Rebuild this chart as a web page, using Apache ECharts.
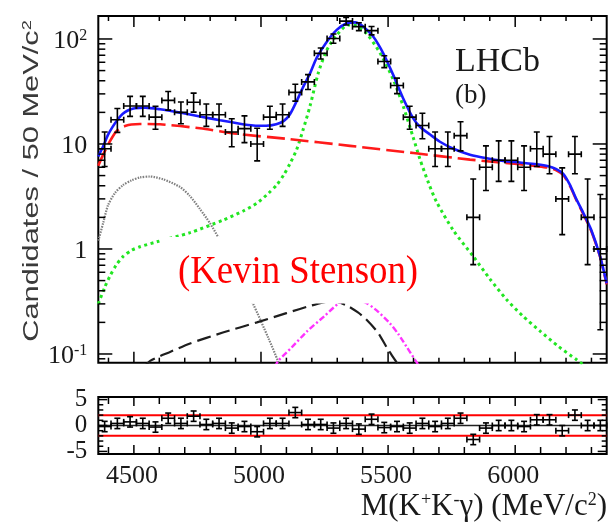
<!DOCTYPE html>
<html><head><meta charset="utf-8">
<script src="https://cdn.jsdelivr.net/npm/echarts@6/dist/echarts.min.js"></script>
<style>html,body{margin:0;padding:0;background:#fff}#c{width:610px;height:525px}</style>
</head><body><div id="c"></div>
<script>
// ---------------- data ----------------
const binCenters = [4385,4435,4485,4535,4585,4635,4685,4735,4785,4835,4885,4935,4985,5035,5085,5135,5185,5235,5285,5335,5385,5435,5485,5535,5585,5635,5685,5735,5785,5835,5885,5935,5985,6035,6085,6135,6185,6235,6285,6335];
const counts   = [9,17,23,23,18,26,20,25,19,19,13,14,10,18,19,31,39,73,101,148,131,120,61,36,18,15,9,9,12,2,6,7,7,6,9,8,3,8,2,1];
const countLo  = [6.1,12.9,18.3,18.3,13.8,21.0,15.6,20.1,14.7,14.7,9.4,10.3,6.9,13.8,14.7,25.6,33.0,64.5,91.0,136.0,120.0,109.5,53.3,30.2,13.8,11.2,6.1,6.1,8.6,0.71,3.6,4.4,4.4,3.6,6.1,5.2,1.37,5.2,0.71,0.17];
const countHi  = [13.0,21.8,28.4,28.4,22.9,31.6,25.1,30.5,24.0,24.0,17.4,18.5,14.1,22.9,24.0,37.1,45.8,82.0,111.6,160.7,142.9,131.5,69.3,42.4,22.9,19.6,13.0,13.0,16.3,4.64,9.6,10.7,10.7,9.6,13.0,11.8,5.92,11.8,4.64,3.3];
const residuals = [-0.2,0.4,0.7,0.4,-0.3,1.4,0.4,1.8,0.2,0.4,-0.5,-0.2,-1.2,0.4,0.4,2.5,0.2,0.2,-0.5,0.4,-0.7,1.2,-0.4,-0.2,-0.5,0.4,-0.2,0.4,1.4,-2.7,-0.5,0,0,-0.2,1.1,1.1,-1.0,2.0,0,0];
const residualErr = 1;

const totalFit = [[4360,7.6],[4380,9.6],[4398,12.2],[4415,14.4],[4430,16.3],[4448,18.5],[4465,20.1],[4485,21.3],[4504,21.9],[4544,22.2],[4603,21.4],[4681,19.9],[4760,18.3],[4839,16.8],[4917,15.6],[4970,15.0],[5020,14.9],[5060,15.4],[5090,16.6],[5114,19.2],[5140,25.5],[5166,35],[5193,47],[5219,66],[5259,94],[5298,122],[5337,141],[5370,144],[5403,131],[5442,105],[5481,73],[5521,45],[5560,27],[5599,17.5],[5625,14.6],[5665,12.3],[5704,10.5],[5757,9.0],[5822,7.9],[5888,7.3],[5953,6.9],[6019,6.65],[6085,6.4],[6130,6.15],[6160,5.8],[6189,5.2],[6215,4.1],[6240,3.0],[6268,2.2],[6300,1.5],[6334,0.85],[6360,0.47]];
const combBkg = [[4360,6.2],[4380,8.0],[4398,9.8],[4415,11.6],[4430,13.1],[4448,14.2],[4465,14.8],[4490,15.3],[4524,15.5],[4603,15.4],[4760,14.1],[4917,12.4],[5100,11.2],[5350,9.6],[5600,8.2],[5822,7.1],[6019,6.4],[6085,6.15],[6130,5.95],[6160,5.65],[6189,5.05],[6215,4.0],[6240,2.95],[6268,2.15],[6300,1.47],[6334,0.84],[6360,0.46]];
const signal = [[4360,0.30],[4385,0.43],[4407,0.56],[4430,0.70],[4458,0.85],[4490,0.97],[4524,1.05],[4590,1.17],[4721,1.43],[4852,1.89],[4930,2.3],[4983,2.72],[5030,3.4],[5062,4.07],[5090,5.1],[5114,6.5],[5140,8.8],[5165,13.5],[5193,23],[5226,48],[5259,78.5],[5298,109],[5343,136],[5376,133],[5415,113],[5469,73],[5521,40.7],[5560,22.7],[5599,11.5],[5625,7.2],[5660,4.2],[5691,2.8],[5757,1.5],[5835,0.85],[5900,0.52],[5966,0.33],[6030,0.23],[6098,0.165],[6170,0.118],[6242,0.088],[6280,0.075]];
const partReco = [[4360,1.2],[4380,1.8],[4398,2.6],[4425,3.4],[4458,4.07],[4490,4.5],[4524,4.8],[4563,4.9],[4616,4.6],[4681,3.9],[4720,3.2],[4760,2.4],[4800,1.75],[4832,1.29],[4900,0.65],[4969,0.3],[5030,0.14],[5067,0.085],[5085,0.06]];
const bkgDashed = [[4540,0.075],[4564,0.086],[4640,0.104],[4721,0.126],[4850,0.16],[4984,0.20],[5100,0.245],[5200,0.29],[5280,0.32],[5337,0.29],[5380,0.25],[5412,0.216],[5460,0.16],[5497,0.113],[5527,0.088],[5545,0.075]];
const bkgDashDot = [[5055,0.075],[5068,0.086],[5120,0.115],[5180,0.163],[5250,0.23],[5311,0.31],[5360,0.34],[5410,0.31],[5455,0.26],[5507,0.196],[5540,0.155],[5573,0.117],[5606,0.088],[5625,0.075]];

const xMajorTicks = [4500,5000,5500,6000];
const xMinorTicks = [4400,4600,4700,4800,4900,5100,5200,5300,5400,5600,5700,5800,5900,6100,6200,6300];
const xTickLabels = ['4500','5000','5500','6000'];
const yMajorTicks = [0.1,1,10,100];
const yMinorTicks = [0.09,0.2,0.3,0.4,0.5,0.6,0.7,0.8,0.9,2,3,4,5,6,7,8,9,20,30,40,50,60,70,80,90];
const yTickBase = ['10','1','10','10'];
const yTickExp  = ['-1','','','2'];
const rMajorTicks = [-5,0,5];
const rMinorTicks = [-4,-3,-2,-1,1,2,3,4];
const rTickLabels = ['-5','0','5'];
const rBandLines = [-2,2];

// ---------------- layout ----------------
const X_MIN = 4360, X_MAX = 6360;
const Y_MIN = 0.0826, Y_MAX = 165.5;
const R_MIN = -5.5, R_MAX = 5.5;
const BIN_HALF = 25;
const SERIF = "Liberation Serif";
const SANS = "Liberation Sans";
const INK = '#1a1a1a';

function tok(size, fam, color, extra) {
  return Object.assign({fontSize:size, fontFamily:fam, fill:color||INK, lineHeight:size}, extra||{});
}

function ln(ch, x1, y1, x2, y2, w, c) {
  ch.push({type:'line', shape:{x1:x1,y1:y1,x2:x2,y2:y2}, style:{stroke:c||'#000', lineWidth:w||1.5}});
}

function decoMain(params, api) {
  const ch = [];
  xMajorTicks.forEach(v => { const b = api.coord([v, Y_MIN]), t = api.coord([v, Y_MAX]); ln(ch,b[0],b[1],b[0],b[1]-11); ln(ch,t[0],t[1],t[0],t[1]+11); });
  xMinorTicks.forEach(v => { const b = api.coord([v, Y_MIN]), t = api.coord([v, Y_MAX]); ln(ch,b[0],b[1],b[0],b[1]-5); ln(ch,t[0],t[1],t[0],t[1]+5); });
  yMajorTicks.forEach(v => { const l = api.coord([X_MIN, v]), r = api.coord([X_MAX, v]); ln(ch,l[0],l[1],l[0]+14,l[1]); ln(ch,r[0],r[1],r[0]-14,r[1]); });
  yMinorTicks.forEach(v => { const l = api.coord([X_MIN, v]), r = api.coord([X_MAX, v]); ln(ch,l[0],l[1],l[0]+7,l[1]); ln(ch,r[0],r[1],r[0]-7,r[1]); });
  yMajorTicks.forEach((v, i) => {
    const l = api.coord([X_MIN, v]);
    const txt = '{n|' + yTickBase[i] + '}' + (yTickExp[i] ? '{s|' + yTickExp[i] + '}' : '');
    ch.push({type:'text', style:{text:txt, x:l[0]-11, y:l[1]+2, align:'right', verticalAlign:'middle',
      fontSize:26, fontFamily:SERIF, fill:INK,
      rich:{n:tok(26, SERIF), s:tok(16, SERIF, INK, {verticalAlign:'top'})}}});
  });
  return {type:'group', children:ch};
}

function decoRes(params, api) {
  const ch = [];
  rBandLines.forEach(v => { const a = api.coord([X_MIN, v]), b = api.coord([X_MAX, v]); ln(ch,a[0],a[1],b[0],b[1],2,'#ff0000'); });
  { const a = api.coord([X_MIN, 0]), b = api.coord([X_MAX, 0]); ln(ch,a[0],a[1],b[0],b[1],1.5,'#222'); }
  xMajorTicks.forEach(v => { const b = api.coord([v, R_MIN]), t = api.coord([v, R_MAX]); ln(ch,b[0],b[1],b[0],b[1]-9); ln(ch,t[0],t[1],t[0],t[1]+9); });
  xMinorTicks.forEach(v => { const b = api.coord([v, R_MIN]), t = api.coord([v, R_MAX]); ln(ch,b[0],b[1],b[0],b[1]-7); ln(ch,t[0],t[1],t[0],t[1]+7); });
  rMajorTicks.forEach(v => { const l = api.coord([X_MIN, v]), r = api.coord([X_MAX, v]); ln(ch,l[0],l[1],l[0]+9,l[1]); ln(ch,r[0],r[1],r[0]-9,r[1]); });
  rMinorTicks.forEach(v => { const l = api.coord([X_MIN, v]), r = api.coord([X_MAX, v]); ln(ch,l[0],l[1],l[0]+5,l[1]); ln(ch,r[0],r[1],r[0]-5,r[1]); });
  xMajorTicks.forEach((v, i) => {
    const b = api.coord([v, R_MIN]);
    ch.push({type:'text', style:{text:xTickLabels[i], x:b[0]-2, y:b[1]+22, align:'center', verticalAlign:'middle',
      fontSize:26, fontFamily:SERIF, fill:INK}});
  });
  rMajorTicks.forEach((v, i) => {
    const l = api.coord([X_MIN, v]);
    ch.push({type:'text', style:{text:rTickLabels[i], x:l[0]-11, y:l[1], align:'right', verticalAlign:'middle',
      fontSize:25, fontFamily:SERIF, fill:INK}});
  });
  return {type:'group', children:ch};
}

function errPoint(params, api) {
  const x = api.value(0), y = api.value(1), lo = api.value(2), hi = api.value(3);
  const pL = api.coord([x - BIN_HALF, y]), pR = api.coord([x + BIN_HALF, y]);
  const pT = api.coord([x, hi]), pB = api.coord([x, lo]);
  const ch = [];
  const w = 1.6, c = 3;
  ln(ch, pL[0], pL[1], pR[0], pR[1], w, '#000');
  ln(ch, pT[0], pT[1], pB[0], pB[1], w, '#000');
  ln(ch, pT[0]-c, pT[1], pT[0]+c, pT[1], w, '#000');
  ln(ch, pB[0]-c, pB[1], pB[0]+c, pB[1], w, '#000');
  ln(ch, pL[0], pL[1]-c, pL[0], pL[1]+c, w, '#000');
  ln(ch, pR[0], pR[1]-c, pR[0], pR[1]+c, w, '#000');
  return {type:'group', children:ch};
}

const mainPoints = binCenters.map((x, i) => [x, counts[i], countLo[i], countHi[i]]);
const resPoints = binCenters.map((x, i) => [x, residuals[i], residuals[i] - residualErr, residuals[i] + residualErr]);

function curve(data, color, width, type, z) {
  return {type:'line', xAxisIndex:0, yAxisIndex:0, data:data, showSymbol:false, symbol:'none', smooth:0.25,
    silent:true, z:z||2, lineStyle:{color:color, width:width, type:type}};
}

const chart = echarts.init(document.getElementById('c'), null, {renderer:'canvas'});
chart.setOption({
  animation:false,
  backgroundColor:'#fff',
  grid:[
    {left:98.3, top:16, width:508.4, height:346.7, show:true, borderColor:'#000', borderWidth:2, backgroundColor:'transparent'},
    {left:98.3, top:397, width:508.4, height:57, show:true, borderColor:'#000', borderWidth:2, backgroundColor:'transparent'}
  ],
  xAxis:[
    {type:'value', gridIndex:0, min:X_MIN, max:X_MAX, show:false, splitLine:{show:false}},
    {type:'value', gridIndex:1, min:X_MIN, max:X_MAX, show:false, splitLine:{show:false}}
  ],
  yAxis:[
    {type:'log', logBase:10, gridIndex:0, min:Y_MIN, max:Y_MAX, show:false, splitLine:{show:false}},
    {type:'value', gridIndex:1, min:R_MIN, max:R_MAX, show:false, splitLine:{show:false}}
  ],
  series:[
    curve(partReco, '#808080', 2.2, [1.5,1.2], 2),
    curve(bkgDashed, '#1e1e1e', 2.2, [14,6], 2),
    curve(bkgDashDot, '#ff33ff', 2.4, [6,2.5,2,2.5], 2),
    curve(signal, '#22e622', 3, [3,3.5], 3),
    curve(combBkg, '#ff1a1a', 2.6, [18,6], 4),
    curve(totalFit, '#1a1aff', 2.6, 'solid', 5),
    {type:'custom', xAxisIndex:0, yAxisIndex:0, data:mainPoints, renderItem:errPoint, silent:true, z:6, clip:true},
    {type:'custom', xAxisIndex:0, yAxisIndex:0, data:[[X_MIN, 1]], renderItem:decoMain, silent:true, z:7},
    {type:'custom', xAxisIndex:1, yAxisIndex:1, data:[[X_MIN, 0]], renderItem:decoRes, silent:true, z:3},
    {type:'custom', xAxisIndex:1, yAxisIndex:1, data:resPoints, renderItem:errPoint, silent:true, z:6, clip:true}
  ],
  graphic:[
    {type:'rect', shape:{x:160, y:237, width:270, height:66.5}, style:{fill:'#fff'}, z:100},
    {type:'text', x:298, y:272, scaleX:0.92, z:101, style:{text:'(Kevin Stenson)', fontSize:40, fontFamily:SERIF, fill:'#ff0000', align:'center', verticalAlign:'middle'}},
    {type:'text', x:455, y:62, z:101, style:{text:'LHCb', fontSize:34, fontFamily:SERIF, fill:INK, align:'left', verticalAlign:'middle'}},
    {type:'text', x:455, y:96, z:101, style:{text:'(b)', fontSize:27, fontFamily:SERIF, fill:INK, align:'left', verticalAlign:'middle'}},
    {type:'text', x:32, y:181, rotation:Math.PI/2, scaleX:1.4, z:101, style:{text:'{n|Candidates / 50 MeV/c}{s|2}', fontSize:22, fontFamily:SANS, fill:'#3a3a3a', align:'center', verticalAlign:'middle',
      rich:{n:tok(22, SANS, '#3a3a3a'), s:tok(13, SANS, '#3a3a3a', {verticalAlign:'top'})}}},
    {type:'text', x:607, y:507, z:101, style:{text:'{n|M(K}{s|+}{n|K}{s|-}{n|γ) (MeV/c}{s|2}{n|)}', fontSize:31, fontFamily:SERIF, fill:INK, align:'right', verticalAlign:'middle',
      rich:{n:tok(31, SERIF), s:tok(18, SERIF, INK, {verticalAlign:'top'})}}}
  ]
});
</script>
</body></html>
